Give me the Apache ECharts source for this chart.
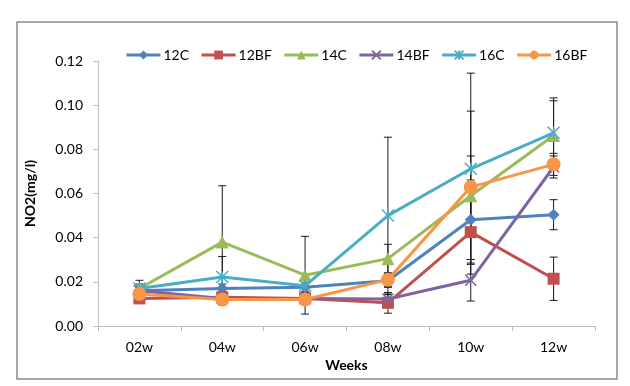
<!DOCTYPE html>
<html><head><meta charset="utf-8">
<script src="https://cdn.jsdelivr.net/npm/echarts@6/dist/echarts.min.js"></script>
<style>html,body{margin:0;padding:0;background:#fff}#c{width:630px;height:386px}</style>
</head><body><div id="c"></div>
<script>
var categories = ['02w','04w','06w','08w','10w','12w'];
var yTicks = ['0.00','0.02','0.04','0.06','0.08','0.10','0.12'];
var seriesNames = ['12C','12BF','14C','14BF','16C','16BF'];
var v12C  = [0.0160, 0.0170, 0.0175, 0.0205, 0.0481, 0.0504];
var v12BF = [0.0125, 0.0130, 0.0125, 0.0105, 0.0425, 0.0214];
var v14C  = [0.0170, 0.0380, 0.0230, 0.0305, 0.0590, 0.0863];
var v14BF = [0.0160, 0.0125, 0.0125, 0.0122, 0.0207, 0.0720];
var v16C  = [0.0170, 0.0222, 0.0182, 0.0500, 0.0712, 0.0875];
var v16BF = [0.0145, 0.0120, 0.0120, 0.0210, 0.0629, 0.0732];
var e12C  = [0.0020, 0.0020, 0.0020, 0.0030, 0.0180, 0.0068];
var e12BF = [0.0020, 0.0025, 0.0020, 0.0047, 0.0190, 0.0098];
var e14C  = [0.0020, 0.0255, 0.0176, 0.0065, 0.0180, 0.0157];
var e14BF = [0.0020, 0.0020, 0.0020, 0.0020, 0.0094, 0.0050];
var e16C  = [0.0037, 0.0093, 0.0030, 0.0355, 0.0433, 0.0158];
var e16BF = [0.0020, 0.0025, 0.0020, 0.0030, 0.0344, 0.0050];

var values = [v12C, v12BF, v14C, v14BF, v16C, v16BF];
var errors = [e12C, e12BF, e14C, e14BF, e16C, e16BF];
var colors = ['#4F81BD','#C0504D','#9BBB59','#8064A2','#4BACC6','#F79646'];
var symbols = ['diamond','rect','triangle',
  'path://M0,0L10,10M10,0L0,10',
  'path://M5,0L5,10M0,0L10,10M10,0L0,10',
  'circle'];
var sizes = [12, 12, 13, 11, 12, 14];
var FONT = 'Lato';

var series = [];
values.forEach(function(vals, i){
  var errData = vals.map(function(v, j){ return [j, v - errors[i][j], v + errors[i][j]]; });
  series.push({
    type: 'custom', name: 'err' + i, z: 1, silent: true,
    data: errData,
    encode: {x: 0, y: [1, 2]},
    renderItem: function(params, api){
      var x = api.value(0);
      var lo = api.coord([x, api.value(1)]);
      var hi = api.coord([x, api.value(2)]);
      var w = 4;
      var st = {stroke: '#1a1a1a', lineWidth: 1};
      return {type: 'group', children: [
        {type: 'line', shape: {x1: lo[0], y1: lo[1], x2: hi[0], y2: hi[1]}, style: st},
        {type: 'line', shape: {x1: lo[0]-w, y1: lo[1], x2: lo[0]+w, y2: lo[1]}, style: st},
        {type: 'line', shape: {x1: hi[0]-w, y1: hi[1], x2: hi[0]+w, y2: hi[1]}, style: st}
      ]};
    }
  });
});
values.forEach(function(vals, i){
  var isPath = i === 3 || i === 4;
  series.push({
    type: 'line', name: seriesNames[i], data: vals, z: 2 + i,
    symbol: symbols[i], symbolSize: sizes[i], showAllSymbol: true,
    lineStyle: {color: colors[i], width: 3},
    itemStyle: {color: colors[i], borderColor: colors[i], borderWidth: isPath ? 1.5 : 0},
    emphasis: {disabled: true},
    animation: false
  });
});

var chart = echarts.init(document.getElementById('c'), null, {renderer: 'canvas'});
chart.setOption({
  animation: false,
  backgroundColor: '#fff',
  graphic: [{type: 'rect', shape: {x: 17, y: 22, width: 600, height: 357},
    style: {fill: 'none', stroke: '#8c8c8c', lineWidth: 1.5}, z: -1}],
  legend: {
    data: seriesNames, top: 43, left: 120, itemWidth: 34, itemHeight: 11, itemGap: 11,
    lineStyle: {width: 3},
    textStyle: {fontFamily: FONT, fontSize: 14, color: '#000', padding: [0, 0, 0, -2]}
  },
  grid: {left: 98, right: 35, top: 61, bottom: 60},
  xAxis: {
    type: 'category', data: categories, boundaryGap: true,
    name: 'Weeks', nameLocation: 'middle', nameGap: 27,
    nameTextStyle: {fontFamily: FONT, fontSize: 14, fontWeight: 'bold', color: '#000'},
    axisLine: {lineStyle: {color: '#bfbfbf', width: 1}},
    axisTick: {show: true, length: 5, lineStyle: {color: '#bfbfbf'}},
    axisLabel: {fontFamily: FONT, fontSize: 14, color: '#000', margin: 14}
  },
  yAxis: {
    type: 'value', min: 0, max: 0.12, interval: 0.02,
    name: 'NO2(mg/l)', nameLocation: 'middle', nameGap: 61, nameRotate: 90,
    nameTextStyle: {fontFamily: FONT, fontSize: 14, fontWeight: 'bold', color: '#000'},
    axisLine: {show: true, lineStyle: {color: '#bfbfbf', width: 1}},
    axisTick: {show: true, length: 5, lineStyle: {color: '#bfbfbf'}},
    splitLine: {show: false},
    axisLabel: {fontFamily: FONT, fontSize: 14, color: '#000', margin: 15,
      formatter: function(v){ return yTicks[Math.round(v / 0.02)]; }}
  },
  series: series
});
</script></body></html>
